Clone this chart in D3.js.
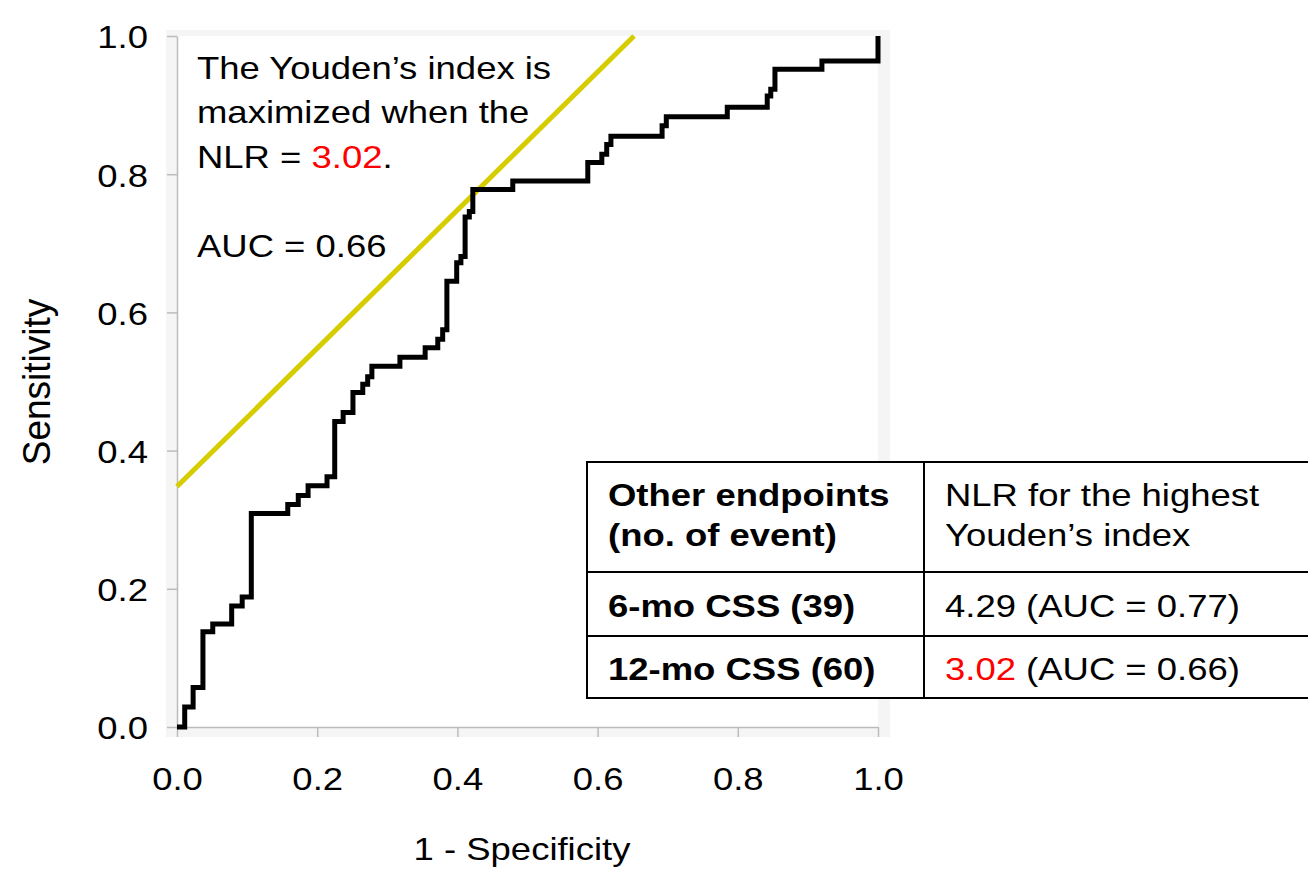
<!DOCTYPE html>
<html>
<head>
<meta charset="utf-8">
<script src="https://cdn.jsdelivr.net/npm/d3@7"></script>
<style>
	body { margin: 0; background: #fff; }
	svg { display: block; font-family: "Liberation Sans", Arial, sans-serif; }
</style>
</head>
<body>
<div class="roc_plot"></div>
<script>

// ROC curve vertices (1 - specificity, sensitivity)
var fpr = [0, 0.011, 0.023, 0.037, 0.051, 0.078, 0.093, 0.106, 0.158, 0.173,
	0.187, 0.214, 0.225, 0.237, 0.251, 0.265, 0.272, 0.278, 0.318, 0.354,
	0.372, 0.379, 0.385, 0.399, 0.405, 0.411, 0.417, 0.422, 0.479, 0.586,
	0.606, 0.613, 0.619, 0.692, 0.698, 0.785, 0.842, 0.847, 0.853, 0.920, 1.0];
var tpr = [0, 0.029, 0.057, 0.138, 0.149, 0.175, 0.188, 0.309, 0.322, 0.335,
	0.349, 0.362, 0.442, 0.455, 0.484, 0.496, 0.507, 0.522, 0.535, 0.549,
	0.561, 0.575, 0.645, 0.672, 0.681, 0.738, 0.746, 0.778, 0.790, 0.817,
	0.829, 0.843, 0.855, 0.870, 0.883, 0.897, 0.913, 0.923, 0.952, 0.964, 1.0];

// Youden line: sensitivity = (1 - specificity) + J
var youdenJ = 0.348;

var xTicks = [0, 0.2, 0.4, 0.6, 0.8, 1.0];
var yTicks = [0, 0.2, 0.4, 0.6, 0.8, 1.0];

var noteLines = ["The Youden\u2019s index is", "maximized when the"];
var noteNlr = "3.02";
var noteAuc = "AUC = 0.66";

var tableHead = ["Other endpoints", "(no. of event)"];
var tableHead2 = ["NLR for the highest", "Youden\u2019s index"];
var endpoints = ["6-mo CSS (39)", "12-mo CSS (60)"];
var nlrValues = ["4.29", "3.02"];
var aucValues = ["0.77", "0.66"];
var nlrColors = ["#000", "#ff0000"];


(function() {

	var width = 1308;
	var height = 869;
	var sx = 1.14;   // the original text is a bit wide
	var fs = 32;

	var svg = d3.select(".roc_plot")
				.append("svg")
				.attr("width", width)
				.attr("height", height);

	var xScale = d3.scaleLinear()
				   .domain([0, 1])
				   .range([177, 878]);

	var yScale = d3.scaleLinear()
				   .domain([0, 1])
				   .range([727, 36]);

	// light grey chart frame + white plot area
	svg.append("rect")
	   .attr("x", 166)
	   .attr("y", 30)
	   .attr("width", 724)
	   .attr("height", 707)
	   .attr("fill", "#f5f5f5");

	svg.append("rect")
	   .attr("x", xScale(0))
	   .attr("y", yScale(1))
	   .attr("width", xScale(1) - xScale(0))
	   .attr("height", yScale(0) - yScale(1))
	   .attr("fill", "#fff");

	var xAxis = d3.axisBottom(xScale)
				  .tickValues(xTicks)
				  .tickSize(10)
				  .tickSizeOuter(0)
				  .tickFormat(d3.format(".1f"));

	var yAxis = d3.axisLeft(yScale)
				  .tickValues(yTicks)
				  .tickSize(10)
				  .tickSizeOuter(0)
				  .tickFormat(d3.format(".1f"));

	var gx = svg.append("g")
				.attr("transform", "translate(0," + yScale(0) + ")")
				.call(xAxis);

	gx.selectAll("text")
	  .attr("y", 63)
	  .attr("dy", 0)
	  .attr("transform", "scale(" + sx + ",1)");

	var gy = svg.append("g")
				.attr("transform", "translate(" + xScale(0) + ",0)")
				.call(yAxis);

	gy.selectAll("text")
	  .attr("x", 0)
	  .attr("dy", "0.37em")
	  .attr("transform", "translate(-29,0) scale(" + sx + ",1)");

	svg.selectAll(".tick text")
	   .attr("font-size", fs + "px")
	   .attr("font-family", "Liberation Sans, Arial, sans-serif")
	   .attr("fill", "#000");

	svg.selectAll(".domain, .tick line")
	   .attr("stroke", "#bcbcbc")
	   .attr("stroke-width", 1.5);

	// axis titles
	svg.append("text")
	   .text("1 - Specificity")
	   .attr("text-anchor", "middle")
	   .attr("font-size", fs + "px")
	   .attr("transform", "translate(522,860) scale(" + sx + ",1)");

	svg.append("text")
	   .text("Sensitivity")
	   .attr("text-anchor", "middle")
	   .attr("font-size", "37px")
	   .attr("transform", "translate(50,382) rotate(-90) scale(1,1.05)");

	// Youden's index line
	svg.append("line")
	   .attr("x1", xScale(0))
	   .attr("y1", yScale(youdenJ))
	   .attr("x2", xScale(1 - youdenJ))
	   .attr("y2", yScale(1))
	   .attr("stroke", "#d6cd00")
	   .attr("stroke-width", 5);

	// ROC curve
	var pts = fpr.map(function(f, i) {
		return [f, tpr[i]];
	});

	var line = d3.line()
				 .x(function(d) { return xScale(d[0]); })
				 .y(function(d) { return yScale(d[1]); })
				 .curve(d3.curveStepAfter);

	svg.append("path")
	   .datum(pts)
	   .attr("d", line)
	   .attr("fill", "none")
	   .attr("stroke", "#000")
	   .attr("stroke-width", 5)
	   .attr("stroke-linejoin", "miter");

	// annotation
	var note = svg.append("g")
				  .attr("transform", "translate(197,0) scale(" + sx + ",1)")
				  .attr("font-size", fs + "px");

	note.selectAll("text.nl")
		.data(noteLines)
		.enter()
		.append("text")
		.attr("class", "nl")
		.attr("y", function(d, i) { return 79 + i * 44; })
		.text(function(d) { return d; });

	var nlrLine = note.append("text")
					  .attr("y", 168);
	nlrLine.append("tspan").text("NLR = ");
	nlrLine.append("tspan").attr("fill", "#ff0000").text(noteNlr);
	nlrLine.append("tspan").text(".");

	note.append("text")
		.attr("y", 257)
		.text(noteAuc);

	// table of other endpoints
	var table = svg.append("g");

	table.append("rect")
		 .attr("x", 587)
		 .attr("y", 462)
		 .attr("width", 760)
		 .attr("height", 236)
		 .attr("fill", "#fff")
		 .attr("stroke", "#000")
		 .attr("stroke-width", 2);

	[572, 636].forEach(function(yy) {
		table.append("line")
			 .attr("x1", 587).attr("x2", 1308)
			 .attr("y1", yy).attr("y2", yy)
			 .attr("stroke", "#000")
			 .attr("stroke-width", 2);
	});

	table.append("line")
		 .attr("x1", 924).attr("x2", 924)
		 .attr("y1", 462).attr("y2", 698)
		 .attr("stroke", "#000")
		 .attr("stroke-width", 2);

	var col1 = table.append("g")
					.attr("transform", "translate(608,0) scale(" + sx + ",1)")
					.attr("font-size", fs + "px")
					.attr("font-weight", "bold");

	var col2 = table.append("g")
					.attr("transform", "translate(945,0) scale(" + sx + ",1)")
					.attr("font-size", fs + "px");

	var headY = [506, 546];
	var rowY = [617, 680];

	tableHead.forEach(function(t, i) {
		col1.append("text").attr("y", headY[i]).text(t);
	});
	endpoints.forEach(function(t, i) {
		col1.append("text").attr("y", rowY[i]).text(t);
	});

	tableHead2.forEach(function(t, i) {
		col2.append("text").attr("y", headY[i]).text(t);
	});
	nlrValues.forEach(function(v, i) {
		var t = col2.append("text").attr("y", rowY[i]);
		t.append("tspan").attr("fill", nlrColors[i]).text(v);
		t.append("tspan").text(" (AUC = " + aucValues[i] + ")");
	});

}());
</script>
</body>
</html>
